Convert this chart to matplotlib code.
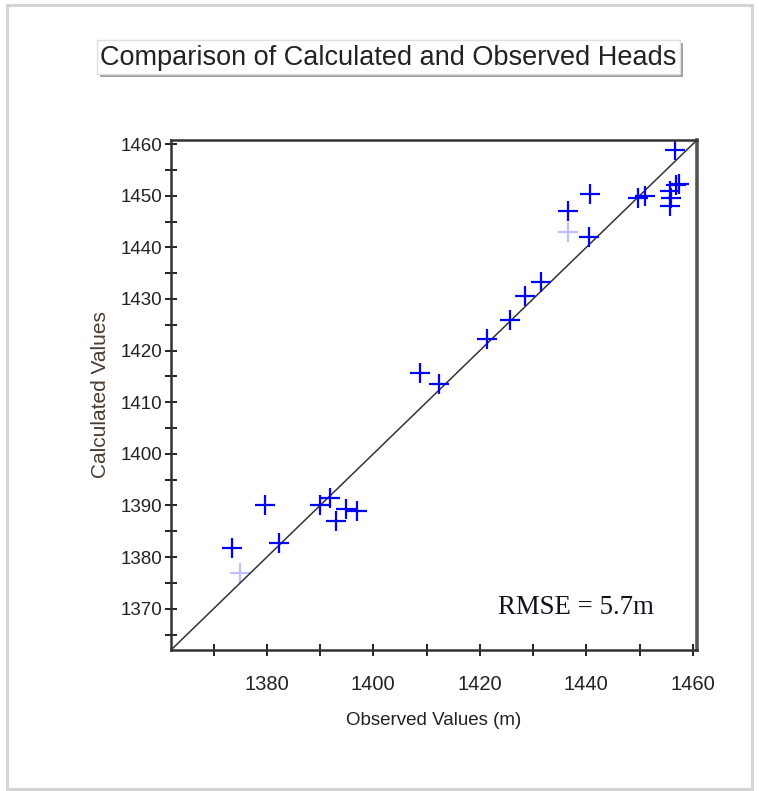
import matplotlib
matplotlib.use("Agg")
import matplotlib.pyplot as plt
from matplotlib.patches import Rectangle
from matplotlib.ticker import MultipleLocator
import numpy as np

# Observed vs calculated heads (m)
observed = [1373.4, 1379.6, 1382.2, 1389.9, 1391.9, 1393.0, 1394.9, 1397.0,
            1408.7, 1412.3, 1421.4, 1425.7, 1428.5, 1431.5,
            1436.6, 1440.7, 1440.5, 1449.7, 1451.0,
            1456.6, 1455.8, 1456.8, 1457.5, 1456.0, 1455.8]
calculated = [1381.8, 1390.0, 1382.8, 1390.0, 1391.5, 1386.9, 1389.4, 1389.0,
              1415.6, 1413.5, 1422.3, 1426.0, 1430.6, 1433.3,
              1447.0, 1450.3, 1442.1, 1449.5, 1449.9,
              1458.8, 1451.0, 1452.0, 1452.3, 1449.5, 1448.0]
# faint (overlapped) markers
observed_faint = [1374.9, 1436.6]
calculated_faint = [1376.9, 1442.9]

axis_min, axis_max = 1362.0, 1460.8
title = "Comparison of Calculated and Observed Heads"
xlabel = "Observed Values (m)"
ylabel = "Calculated Values"
rmse_text = "RMSE = 5.7m"

W, H = 759, 791
fig = plt.figure(figsize=(W / 100, H / 100), dpi=100)

# outer panel border
fig.patches.append(Rectangle((7 / W, 1 - 789 / H), (752 - 7) / W, (789 - 5) / H,
                             transform=fig.transFigure, fill=False,
                             edgecolor="#d4d4d4", linewidth=2.2))

# title box with shadow
bx0, by0, bx1, by1 = 97, 40, 680, 74
fig.patches.append(Rectangle(((bx0 + 3) / W, 1 - (by1 + 3) / H), (bx1 - bx0) / W, (by1 - by0) / H,
                             transform=fig.transFigure, facecolor="#a0a0a0",
                             edgecolor="none"))
fig.patches.append(Rectangle((bx0 / W, 1 - by1 / H), (bx1 - bx0) / W, (by1 - by0) / H,
                             transform=fig.transFigure, facecolor="white",
                             edgecolor="#e0e0e0", linewidth=1))
fig.text((bx0 + bx1) / 2 / W, 1 - 58 / H, title, ha="center", va="center",
         fontsize=19.5, family="Liberation Sans", color="#222222")

ax = fig.add_axes([171 / W, 1 - 650 / H, (697 - 171) / W, (650 - 140) / H])
ax.plot([axis_min, axis_max], [axis_min, axis_max], color="#333333", linewidth=1.1)
ax.plot(observed_faint, calculated_faint, linestyle="none", marker="+",
        markersize=14, markeredgewidth=1.6, color="#0000ff", alpha=0.25)
ax.plot(observed, calculated, linestyle="none", marker="+",
        markersize=14, markeredgewidth=1.6, color="#0000ff")

ax.set_xlim(axis_min, axis_max)
ax.set_ylim(axis_min, axis_max)
ax.xaxis.set_major_locator(MultipleLocator(20))
ax.xaxis.set_minor_locator(MultipleLocator(10))
ax.yaxis.set_major_locator(MultipleLocator(10))
ax.yaxis.set_minor_locator(MultipleLocator(5))
ax.tick_params(which="both", direction="inout", length=8, width=1.4, color="#222222")
ax.tick_params(axis="x", which="major", pad=14, labelsize=14.5, labelcolor="#222222")
ax.tick_params(axis="y", which="major", pad=2, labelsize=13.5, labelcolor="#222222")
for lab in ax.get_xticklabels() + ax.get_yticklabels():
    lab.set_family("Liberation Sans")
for s in ax.spines.values():
    s.set_linewidth(1.8)
    s.set_color("#333333")
ax.spines["right"].set_linewidth(2.6)
ax.spines["right"].set_color("#555555")

ax.set_xlabel(xlabel, fontsize=13.5, family="Liberation Sans", color="#222222", labelpad=13)
ax.set_ylabel(ylabel, fontsize=15, family="Liberation Sans", color="#4a3a30", labelpad=8)

ax.text(0.622, 0.083, rmse_text, transform=ax.transAxes, ha="left", va="center",
        fontsize=19.4, family="Liberation Serif", color="#111122")

fig.savefig("out.png", dpi=100)
